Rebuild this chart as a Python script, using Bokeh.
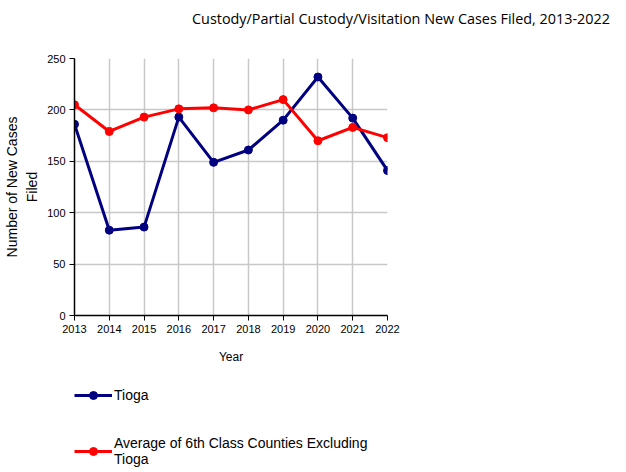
from bokeh.plotting import figure
from bokeh.layouts import column
from bokeh.models import Range1d, Legend, LegendItem, FixedTicker, Div
from bokeh.embed import file_html
from bokeh.resources import INLINE

years = [2013, 2014, 2015, 2016, 2017, 2018, 2019, 2020, 2021, 2022]
tioga = [186, 83, 86, 193, 149, 161, 190, 232, 192, 141]
avg6 = [205, 179, 193, 201, 202, 200, 210, 170, 183, 173]
y_ticks = [0, 50, 100, 150, 200, 250]
series_names = ["Tioga", "Average of 6th Class Counties Excluding\nTioga"]
series_colors = ["#000080", "#ff0000"]
title_text = "Custody/Partial Custody/Visitation New Cases Filed, 2013-2022"

FONT = "Liberation Sans"

title_div = Div(text=title_text, width=610, height=32,
                styles={"font-family": "Open Sans", "font-size": "14.4px", "color": "black",
                        "white-space": "nowrap", "padding-left": "187px", "padding-top": "4px",
                        "line-height": "20px"})

p = figure(frame_width=313, frame_height=257, output_backend="svg", toolbar_location=None,
           x_range=Range1d(2013, 2022), y_range=Range1d(0, 250),
           min_border_left=74, min_border_right=223, min_border_top=16, min_border_bottom=56)
p.outline_line_color = None
p.background_fill_color = "white"
p.border_fill_color = "white"

for ax in (p.xaxis[0], p.yaxis[0]):
    ax.axis_line_color = "black"
    ax.axis_line_width = 1.5
    ax.major_tick_line_color = "black"
    ax.major_tick_in = 0
    ax.major_tick_out = 5
    ax.minor_tick_line_color = None
    ax.major_label_text_font = FONT
    ax.major_label_text_font_size = "11px"
    ax.major_label_text_color = "black"
    ax.axis_label_text_font = FONT
    ax.axis_label_text_font_style = "normal"
    ax.axis_label_text_color = "black"

p.xaxis.ticker = FixedTicker(ticks=years)
p.yaxis.ticker = FixedTicker(ticks=y_ticks)
p.xaxis.major_label_standoff = 4
p.yaxis.major_label_standoff = 4
p.xaxis.axis_label = "Year"
p.xaxis.axis_label_text_font_size = "12px"
p.xaxis.axis_label_standoff = 14
p.yaxis.axis_label = "Number of New Cases\nFiled"
p.yaxis.axis_label_text_font_size = "14px"
p.yaxis.axis_label_text_line_height = 1.25
p.yaxis.axis_label_standoff = 4

p.grid.grid_line_color = "#c8c8c8"
p.grid.grid_line_width = 1.5

for vals, col in zip([tioga, avg6], series_colors):
    p.line(years, vals, line_color=col, line_width=3)
    p.scatter(years, vals, size=8, color=col)

# legend panel: same series drawn off-view so only the legend shows
p2 = figure(width=610, height=103, output_backend="svg", toolbar_location=None,
            x_range=Range1d(0, 1), y_range=Range1d(0, 1),
            min_border_left=38, min_border_top=14, min_border_right=0, min_border_bottom=0)
p2.axis.visible = False
p2.grid.visible = False
p2.outline_line_color = None
items = []
for vals, col, name in zip([tioga, avg6], series_colors, series_names):
    l = p2.line(years, vals, line_color=col, line_width=3)
    s = p2.scatter(years, vals, size=6, color=col)
    items.append(LegendItem(label=name, renderers=[l, s]))
legend = Legend(items=items, location="top_left", orientation="vertical",
                border_line_color=None, background_fill_alpha=0,
                label_text_font=FONT, label_text_font_size="14px", label_text_color="black",
                label_text_line_height=1.4,
                glyph_width=38, spacing=30, label_standoff=2, padding=0, margin=0)
p2.add_layout(legend, "center")

layout = column(title_div, p, p2, spacing=0)
open("out.html", "w").write(file_html(layout, INLINE))
